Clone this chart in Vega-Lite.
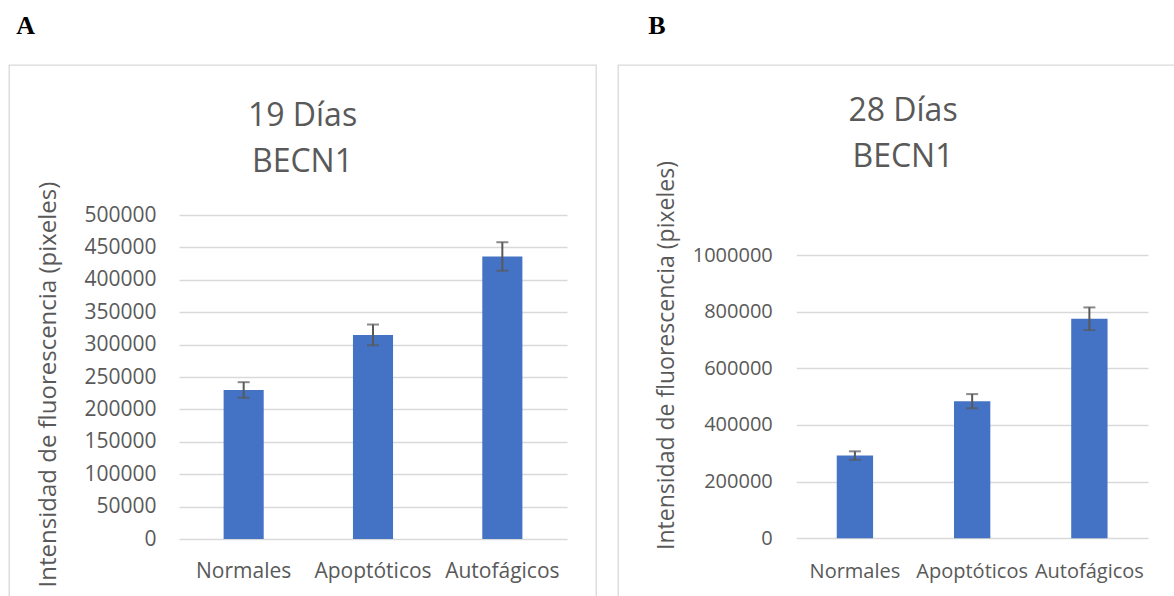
{
  "$schema": "https://vega.github.io/schema/vega-lite/v6.json",
  "padding": {"left": 8, "top": 13, "right": 0, "bottom": 0},
  "background": "white",
  "datasets": {
    "a": [
      {"grupo": "Normales", "valor": 230000, "error": 12000},
      {"grupo": "Apoptóticos", "valor": 315000, "error": 16000},
      {"grupo": "Autofágicos", "valor": 436000, "error": 22000}
    ],
    "b": [
      {"grupo": "Normales", "valor": 292000, "error": 15000},
      {"grupo": "Apoptóticos", "valor": 484000, "error": 25000},
      {"grupo": "Autofágicos", "valor": 775000, "error": 40000}
    ]
  },
  "spacing": 20,
  "hconcat": [
    {
      "title": {"text": "A", "anchor": "start", "dx": 8, "offset": 4, "baseline": "alphabetic", "font": "Liberation Serif", "fontSize": 26, "fontWeight": "bold", "color": "#000000"},
      "vconcat": [
        {
          "width": 587,
          "height": 545,
          "title": {"text": ["19 Días", "BECN1"], "anchor": "middle", "baseline": "top", "offset": -114, "font": "Open Sans", "fontSize": 32, "fontWeight": "normal", "color": "#595959", "lineHeight": 45.6},
          "data": {"name": "a"},
          "encoding": {
            "x": {"field": "grupo", "type": "nominal", "sort": null,
              "scale": {"range": [170, 558], "paddingInner": 0.69, "paddingOuter": 0.345},
              "axis": {"title": null, "labelAngle": 0, "labelFont": "Open Sans", "labelFontSize": 21, "labelColor": "#595959", "labelBaseline": "alphabetic", "labelPadding": 38, "offset": -71, "ticks": false, "tickSize": 0, "domain": false, "grid": false, "labelLimit": 0}},
            "y": {"field": "valor", "type": "quantitative",
              "scale": {"domain": [0, 500000], "range": [474, 150], "nice": false, "zero": true},
              "axis": {"title": "Intensidad de fluorescencia (pixeles)", "titleFont": "Open Sans", "titleFontSize": 24, "titleFontWeight": "normal", "titleColor": "#595959", "titleX": -108, "titleY": 319, "titleBaseline": "middle",
                "labelFont": "Open Sans", "labelFontSize": 21, "labelColor": "#595959", "labelPadding": 0, "ticks": false, "tickSize": 0, "domain": false, "grid": true, "gridColor": "#d9d9d9", "gridWidth": 1.3, "offset": -147, "format": "d", "labelFlush": false,
                "values": [0, 50000, 100000, 150000, 200000, 250000, 300000, 350000, 400000, 450000, 500000]}}
          },
          "layer": [
            {"mark": {"type": "bar", "color": "#4472C4"}},
            {"mark": {"type": "errorbar", "ticks": {"size": 12, "thickness": 2, "color": "#595959"}, "rule": {"strokeWidth": 2, "color": "#595959"}},
             "encoding": {"yError": {"field": "error"}}}
          ]
        }
      ]
    },
    {
      "title": {"text": "B", "anchor": "start", "dx": 31, "offset": 4, "baseline": "alphabetic", "font": "Liberation Serif", "fontSize": 26, "fontWeight": "bold", "color": "#000000"},
      "vconcat": [
        {
          "width": 570,
          "height": 545,
          "title": {"text": ["28 Días", "BECN1"], "anchor": "middle", "baseline": "top", "offset": -109, "font": "Open Sans", "fontSize": 32, "fontWeight": "normal", "color": "#595959", "lineHeight": 45.6},
          "data": {"name": "b"},
          "encoding": {
            "x": {"field": "grupo", "type": "nominal", "sort": null,
              "scale": {"range": [178.3, 530], "paddingInner": 0.69, "paddingOuter": 0.345},
              "axis": {"title": null, "labelAngle": 0, "labelFont": "Open Sans", "labelFontSize": 20, "labelColor": "#595959", "labelBaseline": "alphabetic", "labelPadding": 39, "offset": -71.7, "ticks": false, "tickSize": 0, "domain": false, "grid": false, "labelLimit": 0}},
            "y": {"field": "valor", "type": "quantitative",
              "scale": {"domain": [0, 1000000], "range": [473.3, 190], "nice": false, "zero": true},
              "axis": {"title": "Intensidad de fluorescencia (pixeles)", "titleFont": "Open Sans", "titleFontSize": 23, "titleFontWeight": "normal", "titleColor": "#595959", "titleX": -106, "titleY": 290, "titleBaseline": "middle",
                "labelFont": "Open Sans", "labelFontSize": 20, "labelColor": "#595959", "labelPadding": 0, "ticks": false, "tickSize": 0, "domain": false, "grid": true, "gridColor": "#d9d9d9", "gridWidth": 1.3, "offset": -154.3, "format": "d", "labelFlush": false,
                "values": [0, 200000, 400000, 600000, 800000, 1000000]}}
          },
          "layer": [
            {"mark": {"type": "bar", "color": "#4472C4"}},
            {"mark": {"type": "errorbar", "ticks": {"size": 12, "thickness": 2, "color": "#595959"}, "rule": {"strokeWidth": 2, "color": "#595959"}},
             "encoding": {"yError": {"field": "error"}}}
          ]
        }
      ]
    }
  ],
  "config": {"view": {"stroke": "#d9d9d9", "strokeWidth": 1.3}}
}
